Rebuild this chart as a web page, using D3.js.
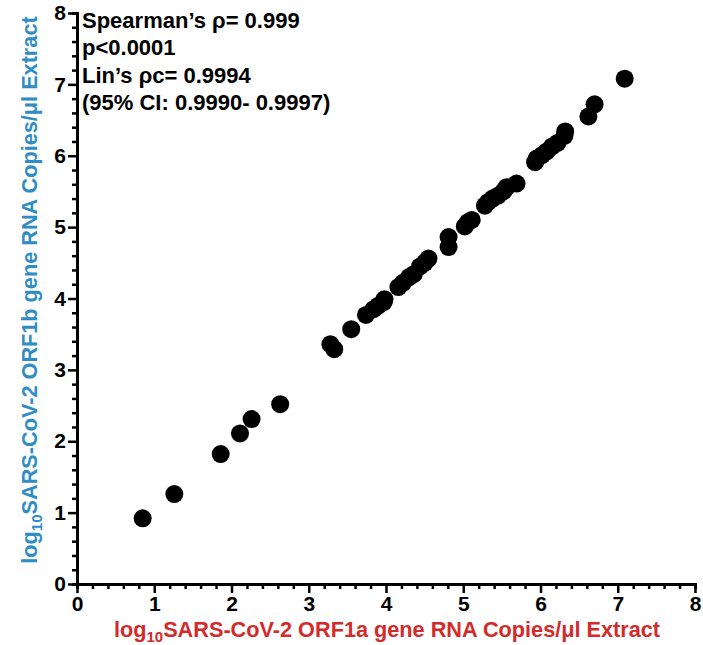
<!DOCTYPE html>
<html>
<head>
<meta charset="utf-8">
<script src="https://cdn.jsdelivr.net/npm/d3@7"></script>
<style>
  body { margin: 0; background: #fff; }
  text { font-family: "Liberation Sans", Arial, sans-serif; font-weight: bold; }
</style>
</head>
<body>
<script>
// values (log10 copies/ul)
var orf1a = [0.85, 1.26, 1.86, 2.11, 2.26, 2.63, 3.28, 3.33, 3.55, 3.74,
             3.84, 3.90, 3.97, 3.98, 4.16, 4.22, 4.30, 4.36, 4.44, 4.50,
             4.55, 4.81, 4.81, 5.02, 5.06, 5.11, 5.28, 5.32, 5.38, 5.45,
             5.52, 5.56, 5.69, 5.93, 5.95, 6.02, 6.08, 6.15, 6.22, 6.31,
             6.32, 6.62, 6.70, 7.09]
var orf1b = [0.92, 1.26, 1.82, 2.11, 2.31, 2.52, 3.36, 3.29, 3.57, 3.77,
             3.85, 3.90, 3.95, 3.99, 4.16, 4.22, 4.30, 4.34, 4.45, 4.50,
             4.56, 4.86, 4.72, 5.01, 5.07, 5.10, 5.30, 5.35, 5.40, 5.44,
             5.50, 5.56, 5.61, 5.91, 5.96, 6.01, 6.06, 6.13, 6.18, 6.28,
             6.34, 6.55, 6.72, 7.08]
var majorTicks = [0, 1, 2, 3, 4, 5, 6, 7, 8]
var statLines = ["Spearman\u2019s \u03c1= 0.999", "p<0.0001",
                 "Lin\u2019s \u03c1c= 0.9994", "(95% CI: 0.9990- 0.9997)"]

var W = 703, H = 645
var margin = {left: 77, right: 8, top: 13, bottom: 61}

var svg = d3.select("body").append("svg")
  .attr("width", W)
  .attr("height", H)

var xScale = d3.scaleLinear()
  .domain([0, 8])
  .range([margin.left, W - margin.right])

var yScale = d3.scaleLinear()
  .domain([0, 8])
  .range([H - margin.bottom, margin.top])

// minor ticks every 0.2
var minor = d3.range(0, 40).map(function(i) { return i / 5 })
  .filter(function(v) { return Math.abs(v - Math.round(v)) > 1e-6 })

function styleAxis(g) {
  g.select(".domain").attr("stroke", "#000").attr("stroke-width", 3)
  g.selectAll(".tick line").attr("stroke", "#000").attr("stroke-width", 2.5)
  g.selectAll(".tick text")
    .attr("fill", "#000")
    .style("font-size", "21px")
    .style("font-family", "'Liberation Sans', Arial, sans-serif")
    .style("font-weight", "bold")
}

// minor ticks drawn first, underneath
svg.append("g")
  .attr("transform", "translate(0," + yScale(0) + ")")
  .call(d3.axisBottom(xScale).tickValues(minor).tickSize(5).tickFormat(""))
  .call(styleAxis)

svg.append("g")
  .attr("transform", "translate(" + xScale(0) + ",0)")
  .call(d3.axisLeft(yScale).tickValues(minor).tickSize(5).tickFormat(""))
  .call(styleAxis)

var xAxis = svg.append("g")
  .attr("transform", "translate(0," + yScale(0) + ")")
  .call(d3.axisBottom(xScale).tickValues(majorTicks).tickSize(9).tickSizeOuter(0).tickPadding(3))
  .call(styleAxis)

var yAxis = svg.append("g")
  .attr("transform", "translate(" + xScale(0) + ",0)")
  .call(d3.axisLeft(yScale).tickValues(majorTicks).tickSize(9).tickSizeOuter(0).tickPadding(2))
  .call(styleAxis)

// points
svg.append("g")
  .selectAll("circle")
  .data(orf1a)
  .enter()
  .append("circle")
  .attr("cx", function(d) { return xScale(d) })
  .attr("cy", function(d, i) { return yScale(orf1b[i]) })
  .attr("r", 9)
  .attr("fill", "#000")

// stats block
svg.append("g")
  .selectAll("text")
  .data(statLines)
  .enter()
  .append("text")
  .attr("x", 82)
  .attr("y", function(d, i) { return 27.5 + i * 27.6 })
  .style("font-size", "22px")
  .attr("fill", "#000")
  .text(function(d) { return d })

// axis titles with subscript 10
var xTitle = svg.append("text")
  .attr("x", 387)
  .attr("y", 637)
  .attr("text-anchor", "middle")
  .attr("fill", "#d42a2a")
  .style("font-size", "21.7px")
xTitle.append("tspan").text("log")
xTitle.append("tspan").attr("dy", 5).style("font-size", "15px").text("10")
xTitle.append("tspan").attr("dy", -5).text("SARS-CoV-2 ORF1a gene RNA Copies/\u03bcl Extract")

var yTitle = svg.append("text")
  .attr("transform", "translate(37,290) rotate(-90)")
  .attr("text-anchor", "middle")
  .attr("fill", "#2e8dc4")
  .style("font-size", "21.7px")
yTitle.append("tspan").text("log")
yTitle.append("tspan").attr("dy", 5).style("font-size", "15px").text("10")
yTitle.append("tspan").attr("dy", -5).text("SARS-CoV-2 ORF1b gene RNA Copies/\u03bcl Extract")
</script>
</body>
</html>
